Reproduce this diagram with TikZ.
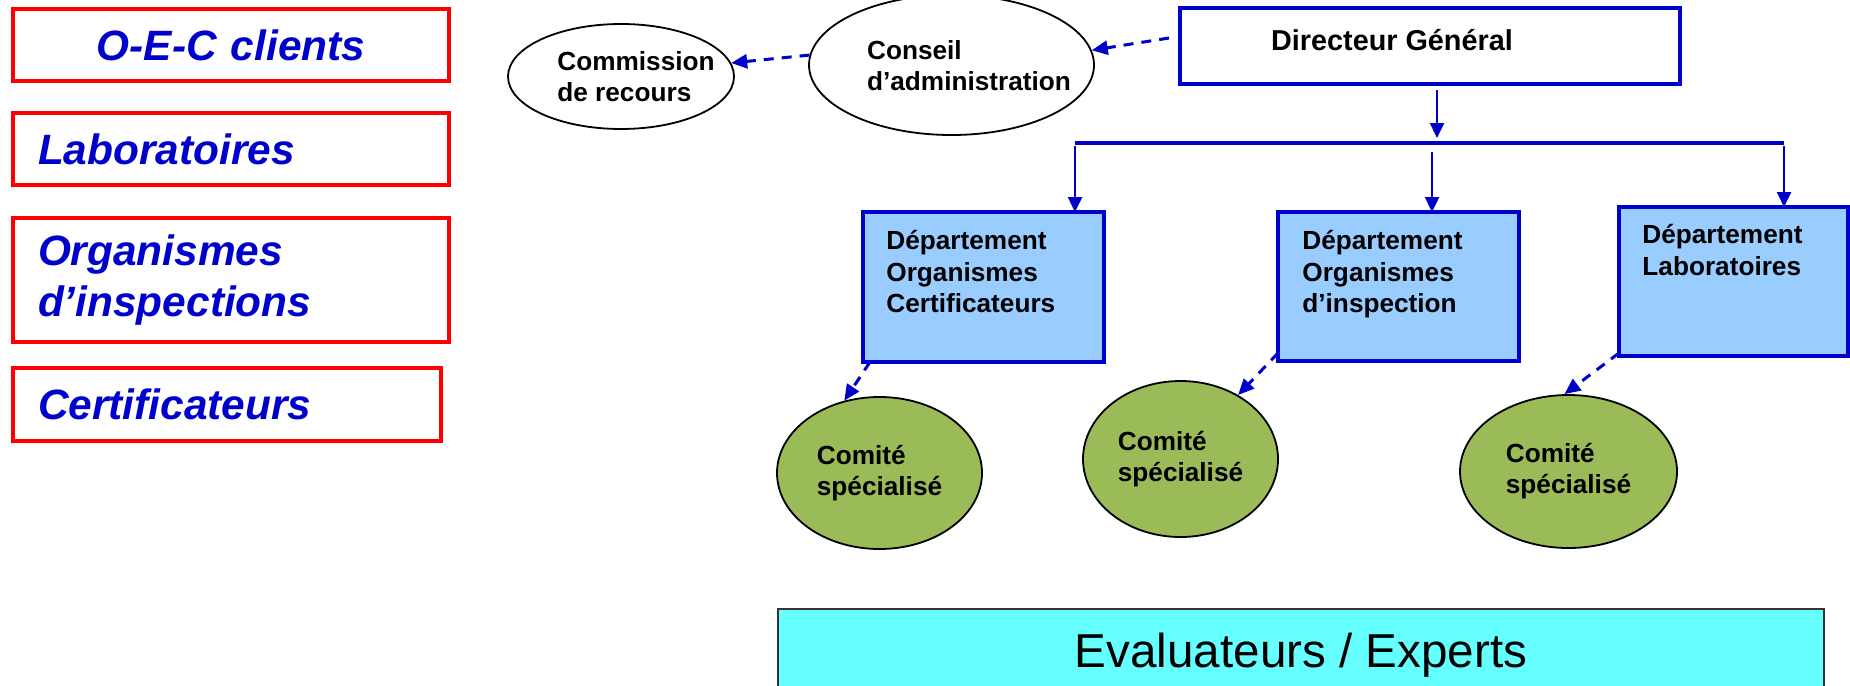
\documentclass[tikz,border=0pt]{standalone}
\usepackage{fontspec}
\setmainfont{Liberation Sans}
\usepackage{tikz}
\usetikzlibrary{arrows.meta,shapes.geometric,positioning,calc}
\definecolor{orgblue}{RGB}{0,0,204}
\definecolor{orgred}{RGB}{255,0,0}
\definecolor{deptfill}{RGB}{153,204,255}
\definecolor{comgreen}{RGB}{155,187,89}
\definecolor{evalcyan}{RGB}{102,255,255}
\tikzstyle{downarrow} = [line width=1.3pt,-{Triangle[length=7.5pt,width=7pt]},color=orgblue]
\tikzstyle{dasharrow} = [line width=1.5pt,dash pattern=on 5pt off 4pt,-{Triangle[length=8pt,width=7pt]},color=orgblue]
\tikzstyle{busline} = [line width=1.7pt,color=orgblue]
\tikzstyle{sidebox} = [rectangle, draw=orgred, line width=1.7pt, anchor=north west, outer sep=0pt, inner xsep=12.5pt, inner ysep=0pt, align=left, text=orgblue, font=\fontsize{21.2}{25.5}\selectfont\bfseries\itshape]
\tikzstyle{ovalbox} = [ellipse, draw=black, line width=0.9pt, inner sep=0pt]
\tikzstyle{ovaltext} = [inner sep=0pt, align=left, font=\fontsize{13.1}{15.5}\selectfont\bfseries]
\tikzstyle{dgbox} = [rectangle, draw=orgblue, line width=1.6pt, anchor=north west, outer sep=0pt, minimum width=250pt, minimum height=38pt]
\tikzstyle{deptbox} = [rectangle, draw=orgblue, fill=deptfill, line width=1.6pt, anchor=north west, outer sep=0pt]
\tikzstyle{depttext} = [inner sep=0pt, anchor=north west, align=left, font=\fontsize{13.1}{15.75}\selectfont\bfseries]
\tikzstyle{combox} = [ellipse, draw=black, fill=comgreen, line width=0.9pt, inner sep=0pt, align=left, font=\fontsize{13.1}{15.5}\selectfont\bfseries]
\tikzstyle{evalbox} = [rectangle, draw=black!80, fill=evalcyan, line width=0.8pt, font=\fontsize{23.8}{28}\selectfont]

\begin{document}
\begin{tikzpicture}[x=0.5pt,y=-0.5pt]
\useasboundingbox (0,0) rectangle (1850,685);
% left column
\node[sidebox, text width=193pt, align=center, minimum height=36pt] (oec) at (13,9) {O-E-C clients};
\node[sidebox, text width=193pt, minimum height=36pt] (labo) at (13,113) {Laboratoires};
\node[sidebox, text width=193pt, minimum height=62pt] (orgi) at (13,218) {Organismes\\d’inspections};
\node[sidebox, text width=189pt, minimum height=36.5pt] (certif) at (13,368) {Certificateurs};

% top row
\node[ovalbox, minimum width=113pt, minimum height=52.5pt] (comm) at (621,76.5) {};
\node[ovaltext] (comm-t) at (636,77) {Commission\\de recours};
\node[ovalbox, minimum width=142.5pt, minimum height=70pt] (cons) at (951.5,65) {};
\node[ovaltext] (cons-t) at (969,66) {Conseil\\d’administration};
\node[dgbox] (dg) at (1180,8) {};
\node[inner sep=0pt, anchor=base, font=\fontsize{14.4}{17}\selectfont\bfseries] (dg-t) at (1392,50) {Directeur Général};

% departments
\node[deptbox, minimum width=120.5pt, minimum height=75pt] (dco) at (863,212) {};
\node[deptbox, minimum width=120.5pt, minimum height=74.5pt] (doi) at (1278,212) {};
\node[deptbox, minimum width=114.5pt, minimum height=74.5pt] (dla) at (1619,207) {};
\node[depttext] (dco-t) at ([xshift=11.5pt,yshift=-9pt]dco.north west) {Département\\Organismes\\Certificateurs};
\node[depttext] (doi-t) at ([xshift=12pt,yshift=-9pt]doi.north west) {Département\\Organismes\\d’inspection};
\node[depttext] (dla-t) at ([xshift=11.5pt,yshift=-8.5pt]dla.north west) {Département\\Laboratoires};

% comites
\node[combox, minimum width=102.5pt, minimum height=76pt] (com1) at (879.5,473) {Comité\\spécialisé};
\node[combox, minimum width=97.5pt, minimum height=78pt] (com2) at (1180.5,459) {Comité\\spécialisé};
\node[combox, minimum width=108.5pt, minimum height=76.5pt] (com3) at (1568.5,471.5) {Comité\\spécialisé};

% evaluateurs
\node[evalbox, minimum width=523pt, minimum height=46pt] (eval) at (1301,655) {Evaluateurs / Experts};

% connectors
\coordinate (busl) at (1075,143);
\coordinate (busm) at (1432,143);
\coordinate (busr) at (1784,143);
\draw[dasharrow] ([xshift=-5.5pt,yshift=4pt]dg.west) -- (cons.6);
\draw[dasharrow] (cons.176) -- (comm.7);
\draw[downarrow] ([xshift=3.5pt,yshift=-3pt]dg.south) -- ($(dg.south |- busm)+(3.5pt,2.5pt)$);
\draw[busline] (busl) -- (busr);
\draw[downarrow] ([yshift=-1.5pt]busl) -- (busl |- dco.north);
\draw[downarrow] ([yshift=-4.5pt]busm) -- (busm |- doi.north);
\draw[downarrow] ([yshift=-1.5pt]busr) -- (busr |- dla.north);
\draw[dasharrow] ([xshift=3.5pt]dco.south west) -- (com1.116);
\draw[dasharrow] ([yshift=4pt]doi.south west) -- (com2.48);
\draw[dasharrow] ([yshift=1.5pt]dla.south west) -- (com3.93);
\end{tikzpicture}
\end{document}
